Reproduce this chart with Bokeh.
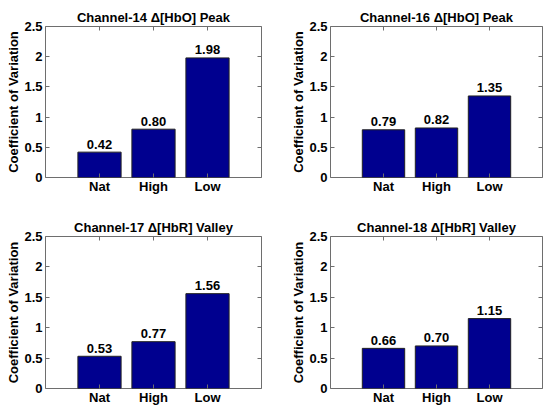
from bokeh.plotting import figure
from bokeh.layouts import gridplot
from bokeh.models import Range1d, FixedTicker, LinearAxis, ColumnDataSource
from bokeh.core.properties import value
from bokeh.embed import file_html
from bokeh.resources import INLINE

# ---- data ----
categories = ["Nat", "High", "Low"]
x_pos = [1, 2, 3]
titles = ["Channel-14 \u0394[HbO] Peak", "Channel-16 \u0394[HbO] Peak",
          "Channel-17 \u0394[HbR] Valley", "Channel-18 \u0394[HbR] Valley"]
ch14 = [0.42, 0.80, 1.98]
ch16 = [0.79, 0.82, 1.35]
ch17 = [0.53, 0.77, 1.56]
ch18 = [0.66, 0.70, 1.15]
y_ticks = [0, 0.5, 1, 1.5, 2, 2.5]
y_tick_labels = ["0", "0.5", "1", "1.5", "2", "2.5"]
y_label = "Coefficient of Variation"

FONT = "Liberation Sans"
BAR = "#00008F"
AX = "#6e6e6e"


def style_axis(ax, ticks, overrides, show_labels=True):
    ax.ticker = FixedTicker(ticks=ticks)
    ax.major_label_overrides = overrides
    ax.minor_tick_line_color = None
    ax.major_tick_in = 4
    ax.major_tick_out = 0
    ax.major_tick_line_color = AX
    ax.axis_line_color = None
    ax.major_label_text_font = FONT
    ax.major_label_text_font_style = "bold"
    ax.major_label_text_color = "black"
    if show_labels:
        ax.major_label_text_font_size = "13px"
    else:
        ax.major_label_text_font_size = "0px"
        ax.major_label_text_color = None
        ax.major_label_standoff = 0


def make_panel(title, vals, width, height, mbl, mbr, mbt, mbb):
    p = figure(width=width, height=height, output_backend="svg", toolbar_location=None,
               x_range=Range1d(0, 4), y_range=Range1d(0, 2.5),
               min_border_left=mbl, min_border_right=mbr,
               min_border_top=mbt, min_border_bottom=mbb)
    p.title.text = title
    p.title.align = "center"
    p.title.vertical_align = "top"
    p.title.text_font = FONT
    p.title.text_font_style = "bold"
    p.title.text_font_size = "13px"
    p.title.text_color = "black"
    p.title.standoff = 0
    p.xgrid.visible = False
    p.ygrid.visible = False
    p.outline_line_color = AX
    p.outline_line_width = 1
    p.background_fill_color = "white"
    p.border_fill_color = "white"

    src = ColumnDataSource(dict(x=x_pos, top=vals, label=[f"{v:.2f}" for v in vals]))
    p.vbar(x="x", top="top", bottom=0, width=0.8, source=src,
           fill_color=BAR, line_color="#222222", line_width=1)
    p.text(x="x", y="top", text="label", source=src,
           text_font=value(FONT), text_font_style="bold", text_font_size="13px",
           text_align="center", text_baseline="bottom", y_offset=-3.5,
           text_color="black")

    xo = {float(t): c for t, c in zip(x_pos, categories)}
    yo = {float(t): l for t, l in zip(y_ticks, y_tick_labels)}
    style_axis(p.xaxis[0], x_pos, xo)
    p.xaxis[0].major_label_standoff = 1
    style_axis(p.yaxis[0], y_ticks, yo)
    p.yaxis[0].major_label_standoff = 3
    p.yaxis[0].axis_label = y_label
    p.yaxis[0].axis_label_text_font = FONT
    p.yaxis[0].axis_label_text_font_style = "bold"
    p.yaxis[0].axis_label_text_font_size = "13px"
    p.yaxis[0].axis_label_text_color = "black"
    p.yaxis[0].axis_label_standoff = 0

    ra = LinearAxis()
    style_axis(ra, y_ticks, yo, show_labels=False)
    p.add_layout(ra, "right")
    ta = LinearAxis()
    style_axis(ta, x_pos, xo, show_labels=False)
    p.add_layout(ta, "above")
    return p


p1 = make_panel(titles[0], ch14, 275, 210, 45, 14, 26, 33)
p2 = make_panel(titles[1], ch16, 268, 210, 55, 1, 26, 33)
p3 = make_panel(titles[2], ch17, 275, 199, 45, 14, 26, 21)
p4 = make_panel(titles[3], ch18, 268, 199, 55, 1, 26, 21)

grid = gridplot([[p1, p2], [p3, p4]], toolbar_location=None)

with open("out.html", "w") as f:
    f.write(file_html(grid, INLINE))
